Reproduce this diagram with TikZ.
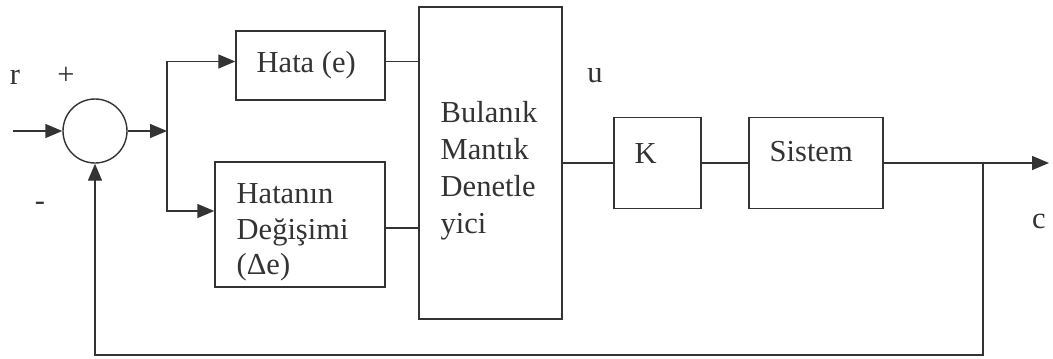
\documentclass[tikz,border=0pt]{standalone}
\usepackage{fontspec}
\setmainfont{Liberation Serif}
\usetikzlibrary{arrows.meta,calc}
\definecolor{ink}{HTML}{333333}
\begin{document}
\begin{tikzpicture}[x=1pt,y=-1pt,
  line width=1.4pt, draw=ink, color=ink,
  blk/.style={draw=ink, rectangle, inner sep=0pt},
  txt/.style={inner sep=0pt, anchor=base west, font=\fontsize{30.5}{37}\selectfont, text=ink},
  ctxt/.style={inner sep=0pt, anchor=base, font=\fontsize{30.5}{37}\selectfont, text=ink},
  arr/.style={-{Triangle[length=17pt,width=14pt]}},
  ln/.style={-}]
\useasboundingbox (0,0) rectangle (1053,359);
% blocks
\node[blk, circle, minimum size=64pt] (sum) at (95,131) {};
\node[blk, minimum width=149pt, minimum height=69pt] (hata) at (310.5,65.5) {};
\node[blk, minimum width=170pt, minimum height=125pt] (hatanin) at (300,224.5) {};
\node[blk, minimum width=143pt, minimum height=312pt] (flc) at (490.5,163) {};
\node[blk, minimum width=87pt, minimum height=91pt] (k) at (657.5,163) {};
\node[blk, minimum width=134pt, minimum height=91pt] (sys) at (816,163) {};
% coordinates
\coordinate (in) at (13,131);
\coordinate (split) at (167,131);
\coordinate (tap) at (983,163);
\coordinate (out) at (1049,163);
\coordinate (fb) at (983,355);
% texts
\node[ctxt] (rlab) at (15,84) {r};
\node[ctxt] (plus) at (66,84) {+};
\node[ctxt] (minus) at (40,210) {-};
\node[txt] (hatat) at (256,72) {Hata (e)};
\node[txt] (hatanint1) at (236,203) {Hatanın};
\node[txt] (hatanint2) at (236,239) {Değişimi};
\node[txt] (hatanint3) at (236,274) {(Δe)};
\node[txt] (flct1) at (440,122) {Bulanık};
\node[txt] (flct2) at (440,159) {Mantık};
\node[txt] (flct3) at (440,196) {Denetle};
\node[txt] (flct4) at (440,233) {yici};
\node[ctxt] (ulab) at (595,82) {u};
\node[txt] (kt) at (634,163) {K};
\node[txt] (syst) at (769,161) {Sistem};
\node[ctxt] (clab) at (1039,228) {c};
% connectors
\draw[arr] (in) -- (sum.west);
\draw[arr] (sum.east) -- (split);
\draw[arr] (split) |- ([yshift=4pt]hata.west);
\draw[arr] (split) |- ([yshift=13.5pt]hatanin.west);
\draw[ln] ([yshift=4pt]hata.east) -- ([yshift=4pt]hata.east -| flc.west);
\draw[ln] ([yshift=-3.5pt]hatanin.east) -- ([yshift=-3.5pt]hatanin.east -| flc.west);
\draw[ln] (flc.east |- k.west) -- (k.west);
\draw[ln] (k.east) -- (sys.west);
\draw[arr] (sys.east) -- (out);
\draw[arr] (tap) -- (fb) -| (sum.south);
\end{tikzpicture}
\end{document}
